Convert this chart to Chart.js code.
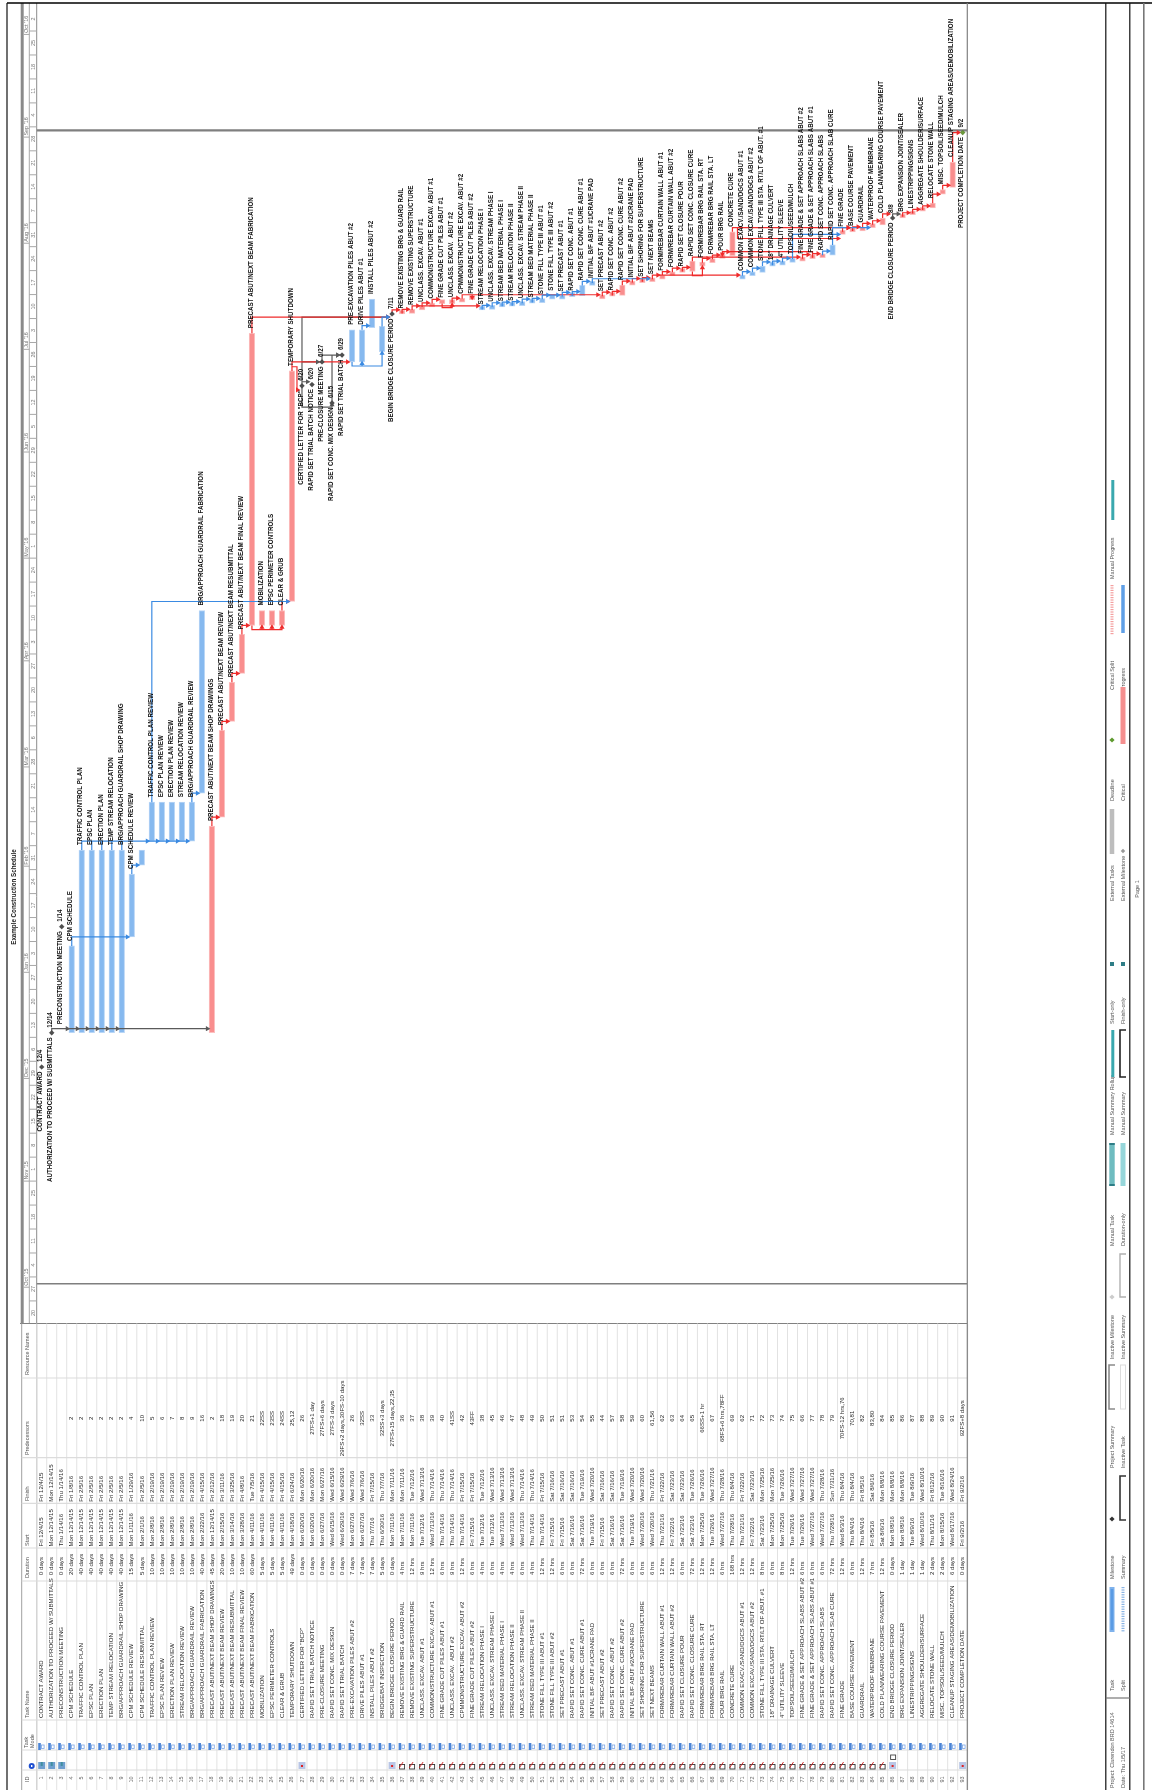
<!DOCTYPE html>
<html><head><meta charset="utf-8"><title>Example Construction Schedule</title>
<style>html,body{margin:0;padding:0;background:#fff}canvas{display:block}</style>
<script src="https://cdn.jsdelivr.net/npm/chart.js@4/dist/chart.umd.min.js"></script>
</head><body><canvas id="c" width="1152" height="1790" style="width:1152px;height:1790px"></canvas>
<script>
const taskNames=["CONTRACT AWARD","AUTHORIZATION TO PROCEED W/ SUBMITTALS","PRECONSTRUCTION MEETING","CPM SCHEDULE","TRAFFIC CONTROL PLAN","EPSC PLAN","ERECTION PLAN","TEMP STREAM RELOCATION","BRG/APPROACH GUARDRAIL SHOP DRAWING","CPM SCHEDULE REVIEW","CPM SCHEDULE RESUBMITTAL","TRAFFIC CONTROL PLAN REVIEW","EPSC PLAN REVIEW","ERECTION PLAN REVIEW","STREAM RELOCATION REVIEW","BRG/APPROACH GUARDRAIL REVIEW","BRG/APPROACH GUARDRAIL FABRICATION","PRECAST ABUT/NEXT BEAM SHOP DRAWINGS","PRECAST ABUT/NEXT BEAM REVIEW","PRECAST ABUT/NEXT BEAM RESUBMITTAL","PRECAST ABUT/NEXT BEAM FINAL REVIEW","PRECAST ABUT/NEXT BEAM FABRICATION","MOBILIZATION","EPSC PERIMETER CONTROLS","CLEAR & GRUB","TEMPORARY SHUTDOWN","CERTIFIED LETTER FOR \"BCP\"","RAPID SET TRIAL BATCH NOTICE","PRE-CLOSURE MEETING","RAPID SET CONC. MIX DESIGN","RAPID SET TRIAL BATCH","PRE-EXCAVATION PILES ABUT #2","DRIVE PILES ABUT #1","INSTALL PILES ABUT #2","BRIDGE/BAT INSPECTION","BEGIN BRIDGE CLOSURE PERIOD","REMOVE EXISTING BRG & GUARD RAIL","REMOVE EXISTING SUPERSTRUCTURE","UNCLASS. EXCAV. ABUT #1","COMMON/STRUCTURE EXCAV. ABUT #1","FINE GRADE CUT PILES ABUT #1","UNCLASS. EXCAV.  ABUT #2","CPMMON/STRUCTURE EXCAV. ABUT #2","FINE GRADE CUT PILES ABUT #2","STREAM RELOCATION PHASE I","UNCLASS. EXCAV. STREAM PHASE I","STREAM BED MATERIAL PHASE I","STREAM RELOCATION PHASE II","UNCLASS. EXCAV. STREAM PHASE II","STREAM BED MATERIAL PHASE II","STONE FILL TYPE III ABUT #1","STONE FILL TYPE III ABUT #2","SET PRECAST ABUT #1","RAPID SET CONC. ABUT #1","RAPID SET CONC. CURE ABUT #1","INITIAL B/F ABUT #1/CRANE PAD","SET PRECAST ABUT #2","RAPID SET CONC. ABUT #2","RAPID SET CONC. CURE ABUT #2","INITIAL B/F ABUT #2/CRANE PAD","SET SHORING FOR SUPERSTRUCTURE","SET NEXT BEAMS","FORM/REBAR CURTAIN WALL ABUT #1","FORM/REBAR CURTAIN WALL ABUT #2","RAPID SET CLOSURE POUR","RAPID SET CONC. CLOSURE CURE","FORM/REBAR BRG RAIL STA. RT","FORM/REBAR BRG RAIL STA. LT","POUR BRG RAIL","CONCRETE CURE","COMMON EXACV./SAND/DGCS ABUT #1","COMMON EXCAV./SAND/DGCS ABUT #2","STONE FILL TYPE III STA. RT/LT OF ABUT. #1","18\" DRAINAGE CULVERT","4\" UTILITY SLEEVE","TOPSOIL/SEED/MULCH","FINE GRADE & SET APPROACH SLABS ABUT #2","FINE GRADE & SET APPROACH SLABS ABUT #1","RAPID SET CONC. APPROACH SLABS","RAPID SET CONC. APPROACH SLAB CURE","FINE GRADE","BASE COURSE PAVEMENT","GUARDRAIL","WATERPROOF MEMBRANE","COLD PLAN/WEARING COURSE PAVEMENT","END BRIDGE CLOSURE PERIOD","BRG EXPANSION JOINT/SEALER","LINESTRIPPING/SIGNS","AGGREGATE SHOULDER/SURFACE","RELOCATE STONE WALL","MISC. TOPSOIL/SEED/MULCH","CLEANUP STAGING AREAS/DEMOBILIZATION","PROJECT COMPLETION DATE"];
const durations=["0 days","0 days","0 days","20 days","40 days","40 days","40 days","40 days","40 days","15 days","5 days","10 days","10 days","10 days","10 days","10 days","40 days","45 days","20 days","10 days","10 days","60 days","5 days","5 days","5 days","49 days","0 days","0 days","0 days","0 days","0 days","7 days","7 days","7 days","5 days","0 days","4 hrs","12 hrs","9 hrs","12 hrs","6 hrs","9 hrs","12 hrs","6 hrs","4 hrs","6 hrs","4 hrs","4 hrs","6 hrs","4 hrs","12 hrs","12 hrs","6 hrs","6 hrs","72 hrs","6 hrs","6 hrs","6 hrs","72 hrs","6 hrs","6 hrs","6 hrs","12 hrs","12 hrs","6 hrs","72 hrs","12 hrs","12 hrs","6 hrs","168 hrs","12 hrs","12 hrs","8 hrs","6 hrs","8 hrs","12 hrs","6 hrs","6 hrs","6 hrs","72 hrs","12 hrs","6 hrs","12 hrs","7 hrs","12 hrs","0 days","1 day","1 day","1 day","2 days","2 days","6 days","0 days"];
const startLabels=["Fri 12/4/15","Mon 12/14/15","Thu 1/14/16","Mon 12/14/15","Mon 12/14/15","Mon 12/14/15","Mon 12/14/15","Mon 12/14/15","Mon 12/14/15","Mon 1/11/16","Mon 2/1/16","Mon 2/8/16","Mon 2/8/16","Mon 2/8/16","Mon 2/8/16","Mon 2/8/16","Mon 2/22/16","Mon 12/14/15","Mon 2/15/16","Mon 3/14/16","Mon 3/28/16","Mon 4/11/16","Mon 4/11/16","Mon 4/11/16","Mon 4/11/16","Mon 4/18/16","Mon 6/20/16","Mon 6/20/16","Mon 6/27/16","Wed 6/15/16","Wed 6/29/16","Mon 6/27/16","Mon 6/27/16","Thu 7/7/16","Thu 6/30/16","Mon 7/11/16","Mon 7/11/16","Mon 7/11/16","Tue 7/12/16","Wed 7/13/16","Thu 7/14/16","Thu 7/14/16","Thu 7/14/16","Fri 7/15/16","Tue 7/12/16","Tue 7/12/16","Wed 7/13/16","Wed 7/13/16","Wed 7/13/16","Thu 7/14/16","Thu 7/14/16","Fri 7/15/16","Fri 7/15/16","Sat 7/16/16","Sat 7/16/16","Tue 7/19/16","Fri 7/15/16","Sat 7/16/16","Sat 7/16/16","Tue 7/19/16","Wed 7/20/16","Wed 7/20/16","Thu 7/21/16","Fri 7/22/16","Sat 7/23/16","Sat 7/23/16","Mon 7/25/16","Tue 7/26/16","Wed 7/27/16","Thu 7/28/16","Thu 7/21/16","Fri 7/22/16","Sat 7/23/16","Mon 7/25/16","Mon 7/25/16","Tue 7/26/16","Tue 7/26/16","Wed 7/27/16","Wed 7/27/16","Thu 7/28/16","Wed 8/3/16","Thu 8/4/16","Thu 8/4/16","Fri 8/5/16","Sat 8/6/16","Mon 8/8/16","Mon 8/8/16","Tue 8/9/16","Wed 8/10/16","Thu 8/11/16","Mon 8/15/16","Wed 8/17/16","Fri 9/2/16"];
const finishLabels=["Fri 12/4/15","Mon 12/14/15","Thu 1/14/16","Fri 1/8/16","Fri 2/5/16","Fri 2/5/16","Fri 2/5/16","Fri 2/5/16","Fri 2/5/16","Fri 1/29/16","Fri 2/5/16","Fri 2/19/16","Fri 2/19/16","Fri 2/19/16","Fri 2/19/16","Fri 2/19/16","Fri 4/15/16","Fri 2/12/16","Fri 3/11/16","Fri 3/25/16","Fri 4/8/16","Tue 7/5/16","Fri 4/15/16","Fri 4/15/16","Fri 4/15/16","Fri 6/24/16","Mon 6/20/16","Mon 6/20/16","Mon 6/27/16","Wed 6/15/16","Wed 6/29/16","Wed 7/6/16","Wed 7/6/16","Fri 7/15/16","Thu 7/7/16","Mon 7/11/16","Mon 7/11/16","Tue 7/12/16","Wed 7/13/16","Thu 7/14/16","Thu 7/14/16","Thu 7/14/16","Fri 7/15/16","Fri 7/15/16","Tue 7/12/16","Wed 7/13/16","Wed 7/13/16","Wed 7/13/16","Thu 7/14/16","Thu 7/14/16","Fri 7/15/16","Sat 7/16/16","Sat 7/16/16","Sat 7/16/16","Tue 7/19/16","Wed 7/20/16","Sat 7/16/16","Sat 7/16/16","Tue 7/19/16","Wed 7/20/16","Wed 7/20/16","Thu 7/21/16","Fri 7/22/16","Sat 7/23/16","Sat 7/23/16","Tue 7/26/16","Tue 7/26/16","Wed 7/27/16","Thu 7/28/16","Thu 8/4/16","Fri 7/22/16","Sat 7/23/16","Mon 7/25/16","Mon 7/25/16","Tue 7/26/16","Wed 7/27/16","Wed 7/27/16","Wed 7/27/16","Thu 7/28/16","Sun 7/31/16","Thu 8/4/16","Thu 8/4/16","Fri 8/5/16","Sat 8/6/16","Mon 8/8/16","Mon 8/8/16","Mon 8/8/16","Tue 8/9/16","Wed 8/10/16","Fri 8/12/16","Tue 8/16/16","Wed 8/24/16","Fri 9/2/16"];
const predecessors=["","","","2","2","2","2","2","2","4","10","5","6","7","8","9","16","2","18","19","20","21","22SS","23SS","24SS","25,12","26","27FS+1 day","27FS+6 days","27FS-3 days","29FS+2 days,30FS-10 days","26","32SS","33","32SS+3 days","27FS+15 days,22,35","36","37","38","39","40","41SS","42","43FF","38","45","46","47","48","49","50","51","51","53","54","55","44","57","58","59","60","61,56","62","63","64","65","66SS+1 hr","67","68FS+6 hrs,78FF","69","62","71","72","73","74","75","66","77","78","79","70FS-12 hrs,76","70,81","82","83,80","84","85","86","87","88","89","90","91","92FS+8 days"];
const startHour=[8,8,8,8,8,8,8,8,8,8,8,8,8,8,8,8,8,8,8,8,8,8,8,8,8,8,8,17,8,8,8,8,8,8,8,8,8,12,12,9,9,9,18,12,12,16,10,14,18,12,16,16,16,10,16,16,18,12,18,18,12,18,12,12,12,18,8,8,14,8,12,12,12,8,14,10,18,12,18,12,14,8,14,14,9,9,9,8,8,8,8,8,8];
const finishHour=[8,8,8,17,17,17,17,17,17,17,17,17,17,17,17,17,17,17,17,17,17,17,17,17,17,17,8,17,8,8,8,17,17,17,17,8,12,12,9,9,15,18,18,18,16,10,14,18,12,16,16,16,10,16,16,10,12,18,18,12,18,12,12,12,18,18,8,8,8,8,12,12,8,14,10,10,12,18,12,12,8,14,14,9,9,9,17,17,17,17,17,17,8];
const criticalRows=[18,19,20,21,22,23,24,25,26,37,38,39,40,41,42,43,44,57,58,59,60,61,62,63,64,65,66,67,68,69,70,77,78,79,81,82,83,84,85,87,88,89,90,91,92];
const milestoneRows=[1,2,3,27,28,29,30,31,36,86,93];
const unlabelledRows=[11,35];
const weekLabels=["20","27","4","11","18","25","1","8","15","22","29","6","13","20","27","3","10","17","24","31","7","14","21","28","6","13","20","27","3","10","17","24","1","8","15","22","29","5","12","19","26","3","10","17","24","31","7","14","21","28","4","11","18","25","2"];
const monthLabels=["Oct '15","Nov '15","Dec '15","Jan '16","Feb '16","Mar '16","Apr '16","May '16","Jun '16","Jul '16","Aug '16","Sep '16","Oct '16"];
const monthStarts=["10/1/15","11/1/15","12/1/15","1/1/16","2/1/16","3/1/16","4/1/16","5/1/16","6/1/16","7/1/16","8/1/16","9/1/16","10/1/16"];
const pageBreaks=["10/2/15","9/3/16"];
const headerLabels=["Resource Names","Predecessors","Finish","Start","Duration","Task Name"];
const legendRowA=["Task","Milestone","Project Summary","Inactive Milestone","Manual Task","Manual Summary Rollup","Start-only","External Tasks","Deadline","Critical Split","Manual Progress"];
const legendRowB=["Split","Summary","Inactive Task","Inactive Summary","Duration-only","Manual Summary","Finish-only","External Milestone","Critical","Progress"];

const DAY0=Date.UTC(2015,11,13);
function dayOf(s,h){const m=s.match(/(\d+)\/(\d+)\/(\d+)/);return (Date.UTC(2000+ +m[3],+m[1]-1,+m[2])-DAY0)/864e5+(h||0)/24;}
const N=taskNames.length;
const S=i=>dayOf(startLabels[i-1],startHour[i-1]);
const F=i=>dayOf(finishLabels[i-1],finishHour[i-1]);
const isMs=r=>milestoneRows.includes(r);
const isCrit=r=>criticalRows.includes(r);
const LIFT=1.2;
const BLUE='#3a8ae2',RED='#ef2b2b',GRAY='#5a5a5a';

const rowsAll=Array.from({length:N},(_,i)=>i+1);
const barData=f=>rowsAll.filter(r=>!isMs(r)&&f(r)).map(r=>({x:r,y:[S(r),F(r)]}));

// dependency links come from the predecessor column
const linkLines={[BLUE]:[],[RED]:[],[GRAY]:[]};
const linkArrows={[BLUE]:[],[RED]:[],[GRAY]:[]};
function linkColor(p,s){
  if(p===79&&s===80)return BLUE;
  if(p===36)return RED;
  if(isMs(p))return GRAY;
  return isCrit(p)?RED:BLUE;
}
predecessors.forEach((str,idx)=>{
  if(!str)return;
  const s=idx+1;
  str.split(',').forEach(part=>{
    const m=part.match(/^(\d+)(FS|SS|FF)?/);
    const p=+m[1];let t=m[2]||'FS';
    if(p===27&&s===30)t='SS';
    const c=linkColor(p,s);let pts,arr;
    if(t==='SS'){
      const L=Math.min(S(p),S(s))-LIFT;
      pts=[[p,S(p)],[p,L],[s,L],[s,S(s)-0.5]];arr=[s,S(s)-0.5,0];
    }else if(t==='FF'){
      const L=Math.max(F(p),F(s))+LIFT;
      pts=[[p,F(p)],[p,L],[s,L],[s,F(s)+0.5]];arr=[s,F(s)+0.5,180];
    }else if(S(s)<F(p)-0.3&&!(p===62)){
      const L=F(p)+LIFT,L2=S(s)-LIFT;
      pts=[[p,F(p)],[p,L],[p+.5,L],[p+.5,L2],[s-.45,L2]];arr=[s-.45,L2,90];
    }else{
      let y=Math.max(S(s),F(p)+LIFT);
      if(s===36)y=S(s)-0.9;
      pts=[[p,F(p)],[p,y],[s-.45,y]];arr=[s-.45,y,90];
    }
    pts.forEach(q=>linkLines[c].push({x:q[0],y:q[1]}));
    linkLines[c].push({x:NaN,y:NaN});
    linkArrows[c].push({x:arr[0],y:arr[1],rot:arr[2]});
  });
});
const lineDs=(c)=>({type:'line',label:'links',data:linkLines[c],borderColor:c,borderWidth:1.2,pointRadius:0,spanGaps:false,tension:0,order:2});
const arrowDs=(c)=>({type:'scatter',label:'arrows',data:linkArrows[c],backgroundColor:c,borderColor:c,borderWidth:0,pointStyle:'triangle',pointRadius:3,pointRotation:linkArrows[c].map(a=>a.rot),order:1});

const FN='"Liberation Sans Narrow","Liberation Sans",Arial,sans-serif';
function vtext(ctx,str,x,y,font,color,align,squeeze){
  ctx.save();ctx.translate(x,y);ctx.rotate(-Math.PI/2);if(squeeze)ctx.scale(squeeze,1);ctx.font=font;ctx.fillStyle=color;ctx.textAlign=align||'left';ctx.textBaseline='middle';
  ctx.fillText(str,0,0);ctx.restore();
}
function line(ctx,x1,y1,x2,y2,c,w){ctx.strokeStyle=c;ctx.lineWidth=w;ctx.beginPath();ctx.moveTo(x1,y1);ctx.lineTo(x2,y2);ctx.stroke();}

const tablePlugin={id:'table',beforeDatasetsDraw(chart){
  const ctx=chart.ctx,xs=chart.scales.x,ys=chart.scales.y;ctx.save();
  const TOP=1323.5,L=36.7,R=967;
  // page break rules
  pageBreaks.forEach(d=>{const y=ys.getPixelForValue(dayOf(d,0));line(ctx,L,y,R,y,'#7f7f7f',d==="9/3/16"?2.2:1.6);});
  // timescale
  ctx.fillStyle='#8a8a8a';ctx.fillRect(20.7,3,3,TOP-3);
  line(ctx,29.3,3,29.3,TOP,'#a8a8a8',1);line(ctx,L,3,L,1790,'#8c8c8c',1);
  weekLabels.forEach((_,i)=>{const y=ys.getPixelForValue(-84+7*i);if(y>3&&y<TOP)line(ctx,29.3,y,L,y,'#a8a8a8',1);});
  monthLabels.forEach((m,i)=>{const y=ys.getPixelForValue(dayOf(monthStarts[i],0));line(ctx,23.7,y,29.3,y,'#a8a8a8',1);
    vtext(ctx,m,26.8,y-1.5,'5.5px '+FN,'#777');});
  // table grid
  line(ctx,20,TOP,R,TOP,'#808080',1.2);
  line(ctx,21.7,TOP,21.7,1790,'#a0a0a0',1);
  for(let r=0;r<=N;r++){const x=xs.getPixelForValue(r+.5);line(ctx,x,TOP,x,1790,'#e2e2e2',1);}
  [1378,1457.7,1503.3,1548,1581,1720,1750,1770].forEach(y=>line(ctx,21.7,y,R,y,'#dcdcdc',1.2));
  // headers
  const hf='5.5px '+FN,hc='#555';
  const hy=[1375,1455,1501,1546,1578,1718];
  headerLabels.forEach((h,i)=>vtext(ctx,h,27.5,hy[i],hf,hc));
  vtext(ctx,'Task',26,1748,hf,hc);vtext(ctx,'Mode',32.5,1748,hf,hc);vtext(ctx,'ID',27.5,1782,hf,hc);
  ctx.fillStyle='#1f4fd0';ctx.beginPath();ctx.arc(31.7,1766,3,0,7);ctx.fill();ctx.fillStyle='#fff';ctx.fillRect(31,1765,1.4,2);
  // rows
  const tf='6.1px '+FN,tc='#2b2b2b';
  rowsAll.forEach((r)=>{
    const x=xs.getPixelForValue(r),i=r-1;
    vtext(ctx,taskNames[i],x,1718,tf,tc);
    vtext(ctx,durations[i],x,1575,tf,tc);
    vtext(ctx,startLabels[i],x,1546.5,tf,tc);
    vtext(ctx,finishLabels[i],x,1501.7,tf,tc);
    if(predecessors[i])vtext(ctx,predecessors[i],x,1418.3,tf,tc,'center');
    // task mode icon
    ctx.fillStyle='#4a84d6';ctx.fillRect(x-3.5,1743,2.6,7);
    ctx.strokeStyle='#7ba6e6';ctx.lineWidth=.8;ctx.strokeRect(x-.2,1745,2.6,3.4);
    // indicators
    if(r<=3){ctx.fillStyle='#6f9fcf';ctx.fillRect(x-3.5,1762,7,7);ctx.fillStyle='#3f8fa0';ctx.fillRect(x-1,1762,2,4);}
    else if(r===27||r===36||r===86||r===93){ctx.fillStyle='#b9c6e6';ctx.fillRect(x-3.5,1762,7,7);ctx.fillStyle='#e02020';ctx.fillRect(x-1,1765,2,2);}
    else if(r>=37&&r<=85){ctx.strokeStyle='#333';ctx.lineWidth=.9;ctx.strokeRect(x-2.5,1764.5,5,4.5);ctx.strokeStyle='#d02020';ctx.beginPath();ctx.moveTo(x-3,1768);ctx.lineTo(x+1,1762);ctx.stroke();}
    if(r===86){ctx.strokeStyle='#444';ctx.lineWidth=.9;ctx.strokeRect(x-2,1755,5,4.5);}
  });
  ctx.restore();
},afterDraw(chart){
  const ctx=chart.ctx,xs=chart.scales.x,ys=chart.scales.y;ctx.save();
  // gantt labels
  const lf='bold 7px '+FN,lc='#111',SQ=0.89;
  rowsAll.forEach(r=>{
    if(unlabelledRows.includes(r))return;
    const x=xs.getPixelForValue(r)-1.2,i=r-1;
    if(isMs(r)){
      const y=ys.getPixelForValue(S(r));
      vtext(ctx,taskNames[i],x,y+4.5,lf,lc,'right',SQ);
      vtext(ctx,finishLabels[i].replace(/^\w+ /,'').replace(/\/\d+$/,''),x,y-5,lf,lc,'left',SQ);
    }else{
      vtext(ctx,taskNames[i],x,ys.getPixelForValue(F(r))-5,lf,lc,'left',SQ);
    }
  });
  // title and page frame
  vtext(ctx,'Example Construction Schedule',14.2,897,'bold 7px '+FN,'#222','center',SQ);
  line(ctx,7,3,1152,3,'#000',1.6);line(ctx,7,3,7,1790,'#111',1.2);
  line(ctx,967.3,3,967.3,1790,'#808080',1.2);
  line(ctx,1105.8,3,1105.8,1790,'#111',1.2);line(ctx,1129.8,3,1129.8,1790,'#111',1.2);line(ctx,1143.8,3,1143.8,1790,'#777',1.6);
  line(ctx,1105.8,1698,1129.8,1698,'#777',1.2);
  // legend
  const lg='5.5px '+FN,gc='#555',xa=1112,xb=1123;
  const ya=[1691,1579,1468,1359,1246,1135,1024,901,801,690,579],yb=[1691,1579,1468,1359,1246,1135,1024,901,801,690];
  legendRowA.forEach((t,i)=>vtext(ctx,t,xa,ya[i],lg,gc));
  legendRowB.forEach((t,i)=>vtext(ctx,t,xb,yb[i],lg,gc));
  const box=(x,y1,y2,w,c)=>{ctx.fillStyle=c;ctx.fillRect(x-w/2,y1,w,y2-y1);};
  const brk=(x,y1,y2,c,lw)=>{ctx.strokeStyle=c;ctx.lineWidth=lw;ctx.beginPath();ctx.moveTo(x+3,y1);ctx.lineTo(x-3,y1);ctx.lineTo(x-3,y2);ctx.lineTo(x+3,y2);ctx.stroke();};
  const dia=(x,y,s,c)=>{ctx.fillStyle=c;ctx.beginPath();ctx.moveTo(x-s,y);ctx.lineTo(x,y-s);ctx.lineTo(x+s,y);ctx.lineTo(x,y+s);ctx.closePath();ctx.fill();};
  const dots=(x,y1,y2,c)=>{ctx.fillStyle=c;for(let y=y1;y<y2;y+=2.4)ctx.fillRect(x-1.5,y,3,1.2);};
  box(xa,1587,1632,5,'#7fb2ec');box(xa,1589,1630,2.6,'#5a9be4');dots(xb,1587,1632,'#8ab4e4');
  dia(xa,1519,2.6,'#333');brk(xb,1476,1520,'#333',1.6);
  brk(xa,1365,1409,'#8a8a8a',1.6);ctx.strokeStyle='#dcdcdc';ctx.lineWidth=1;ctx.strokeRect(xb-2.5,1365,5,44);
  dia(xa,1297,2.6,'#ccc');brk(xb,1254,1297,'#b0b0b0',1.4);
  box(xa,1143,1186,5.4,'#6fbcc0');box(xa,1143,1145,5.4,'#2e7d86');box(xa,1184,1186,5.4,'#2e7d86');box(xb,1143,1186,5,'#96d6da');
  box(xa+.8,1030,1077,3,'#3aa8ae');brk(xb,1030,1077,'#222',1.6);
  box(xa,962,966,4,'#2e7d86');box(xb,962,966,4,'#2e7d86');
  box(xa,809,854,4.5,'#bdbdbd');dia(xb,851,2.2,'#999');
  dia(xa,740,2.6,'#5e9a2e');box(xb,687,744,5,'#f58f8f');
  dots(xa,585,633,'#f4a0a0');box(xb,585,633,3.5,'#5f9fe6');
  box(xa+.8,480,520,3,'#3aa8ae');
  // footer
  vtext(ctx,'Project: Clarendon BRD 14614',1112,1788,lg,gc);
  vtext(ctx,'Date: Thu 1/5/17',1123,1788,lg,gc);
  vtext(ctx,'Page 1',1137,889,lg,gc,'center');
  ctx.restore();
}};

new Chart(document.getElementById('c'),{
  type:'bar',
  data:{datasets:[
    {label:'Task',data:barData(r=>!isCrit(r)),backgroundColor:'#86b9ef',borderColor:'#b9d6f6',borderWidth:1,barThickness:5.6,minBarLength:4,grouped:false,borderSkipped:false,order:3},
    {label:'Critical',data:barData(isCrit),backgroundColor:'#f98e8e',borderColor:'#fcc0c0',borderWidth:1,barThickness:5.6,minBarLength:4,grouped:false,borderSkipped:false,order:3},
    lineDs(BLUE),lineDs(RED),lineDs(GRAY),
    arrowDs(BLUE),arrowDs(RED),arrowDs(GRAY),
    {type:'scatter',label:'Milestone',data:rowsAll.filter(r=>isMs(r)&&r!==93).map(r=>({x:r,y:S(r)})),backgroundColor:'#4e4e4e',pointStyle:'rectRot',pointRadius:2.6,order:0},
    {type:'scatter',label:'Deadline',data:[{x:93,y:S(93)}],backgroundColor:'#6a9a3a',pointStyle:'rectRot',pointRadius:2.6,order:0}
  ]},
  options:{
    responsive:false,animation:false,devicePixelRatio:1,
    layout:{padding:{left:20,right:185,top:3,bottom:0}},
    plugins:{legend:{display:false},tooltip:{enabled:false}},
    events:[],
    scales:{
      x:{type:'linear',position:'bottom',offset:false,min:.5,max:93.43,grid:{display:false,drawTicks:false},border:{display:false},
        afterBuildTicks(s){s.ticks=rowsAll.map(v=>({value:v}));},
        ticks:{autoSkip:false,minRotation:90,maxRotation:90,padding:453,color:'#666',font:{size:5.5,family:FN},callback:v=>String(v)},
        afterFit(s){s.height=466.5;s.paddingLeft=0;s.paddingRight=0;s.paddingTop=0;s.paddingBottom=0;}},
      y:{type:'linear',position:'left',min:-83.6,max:301.6,grid:{display:false,drawTicks:false},border:{display:false},
        afterBuildTicks(s){s.ticks=weekLabels.map((_,i)=>({value:-84+7*i+3.5}));},
        ticks:{autoSkip:false,minRotation:90,maxRotation:90,padding:.5,crossAlign:'center',color:'#777',font:{size:5.5,family:FN},
          callback:(v,i)=>weekLabels[i]},
        afterFit(s){s.width=16.7;s.paddingTop=0;s.paddingBottom=0;s.paddingLeft=0;s.paddingRight=0;}}
    }
  },
  plugins:[tablePlugin]
});
</script></body></html>
